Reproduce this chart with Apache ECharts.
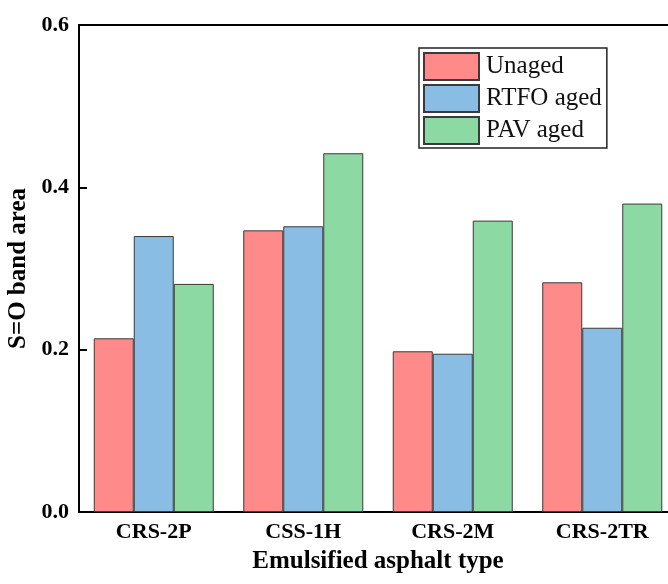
<!DOCTYPE html>
<html>
<head>
<meta charset="utf-8">
<script src="https://cdn.jsdelivr.net/npm/echarts@6/dist/echarts.min.js"></script>
<style>html,body{margin:0;padding:0;background:#fff}#c{width:668px;height:584px}</style>
</head>
<body>
<div id="c"></div>
<script>
const categories = ['CRS-2P', 'CSS-1H', 'CRS-2M', 'CRS-2TR'];
const seriesNames = ['Unaged', 'RTFO aged', 'PAV aged'];
const unaged = [0.214, 0.347, 0.198, 0.283];
const rtfoAged = [0.340, 0.352, 0.195, 0.227];
const pavAged = [0.281, 0.442, 0.359, 0.380];
const yTicks = [0.0, 0.2, 0.4, 0.6];

const colors = ['#FF8A8A', '#8ABDE3', '#8DD9A3'];
const font = '"Liberation Serif", "DejaVu Serif", serif';
const chart = echarts.init(document.getElementById('c'));
const mk = (name, data, i) => ({
  name, type: 'bar', data, barWidth: 40, barGap: '0%',
  itemStyle: {color: colors[i], borderColor: '#3a3a3a', borderWidth: 1},
  emphasis: {disabled: true}
});
chart.setOption({
  animation: false,
  grid: {left: 79, right: -9, top: 25, bottom: 72, containLabel: false, outerBoundsMode: 'none',
    show: true, borderColor: '#000', borderWidth: 2, backgroundColor: 'transparent'},
  legend: {
    left: 419, top: 48, orient: 'vertical', itemWidth: 55, itemHeight: 27, itemGap: 3,
    padding: [4, 5, 3, 4], borderColor: '#222', borderWidth: 1.5, icon: 'rect',
    textStyle: {fontFamily: font, fontSize: 25, color: '#111', padding: [0, 0, 0, 2]},
    data: seriesNames
  },
  xAxis: {
    type: 'category', data: categories,
    name: 'Emulsified asphalt type', nameLocation: 'middle', nameGap: 37,
    nameTextStyle: {fontFamily: font, fontSize: 25, fontWeight: 'bold', color: '#000'},
    axisLine: {lineStyle: {color: '#000', width: 2}},
    axisTick: {inside: true, length: 8, alignWithLabel: true, lineStyle: {width: 2, color: '#000'}},
    axisLabel: {fontFamily: font, fontSize: 22, fontWeight: 'bold', color: '#000', margin: 9}
  },
  yAxis: {
    type: 'value', min: 0, max: 0.6, interval: 0.2,
    name: 'S=O band area', nameLocation: 'middle', nameGap: 41,
    nameTextStyle: {fontFamily: font, fontSize: 25, fontWeight: 'bold', color: '#000'},
    axisLine: {show: true, lineStyle: {color: '#000', width: 2}},
    axisTick: {show: true, inside: true, length: 8, lineStyle: {width: 2, color: '#000'}},
    splitLine: {show: false},
    axisLabel: {fontFamily: font, fontSize: 22, fontWeight: 'bold', color: '#000', margin: 10,
      formatter: v => { const t = yTicks.find(x => Math.abs(x - v) < 1e-9); return t === undefined ? '' : t.toFixed(1); }}
  },
  series: [mk(seriesNames[0], unaged, 0), mk(seriesNames[1], rtfoAged, 1), mk(seriesNames[2], pavAged, 2)]
});
</script>
</body>
</html>
